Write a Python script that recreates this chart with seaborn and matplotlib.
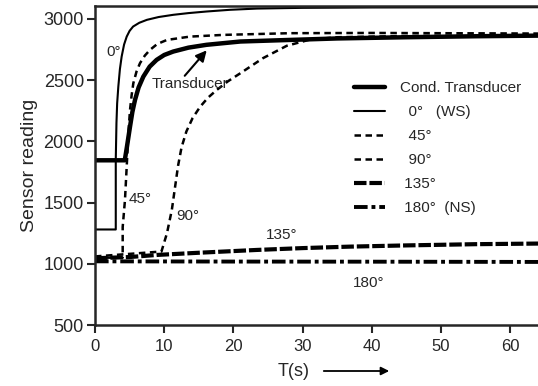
import numpy as np
import pandas as pd
import matplotlib
matplotlib.use('Agg')
import matplotlib.pyplot as plt
import seaborn as sns

# values (time in s, sensor reading)
t_trans = [0, 4.3, 4.6, 5.06, 5.4, 5.78, 6.3, 6.98, 7.9, 8.9, 10, 11.3, 13.5, 16.1, 21, 28.2, 35, 45, 55, 64]
y_trans = [1845, 1845, 1950, 2120, 2240, 2338, 2440, 2528, 2610, 2665, 2705, 2733, 2765, 2788, 2815, 2828, 2840, 2850, 2858, 2863]

t_0 = [0, 3.0, 3.0, 3.1, 3.2, 3.37, 3.6, 3.85, 4.2, 4.58, 5.0, 5.5, 6.4, 7.5, 9.2, 11.3, 13.5, 16.1, 19.5, 23.4, 30, 40, 64]
y_0 = [1280, 1280, 1850, 2150, 2310, 2447, 2590, 2692, 2790, 2855, 2902, 2937, 2968, 2992, 3015, 3033, 3047, 3060, 3074, 3084, 3090, 3093, 3095]

t_45 = [0, 4.0, 4.0, 4.33, 4.58, 4.82, 5.06, 5.3, 5.54, 6.0, 6.5, 7.2, 7.95, 9.0, 10.4, 13.7, 18.5, 28.2, 40, 64]
y_45 = [1050, 1050, 1300, 1521, 1793, 2066, 2257, 2380, 2475, 2570, 2638, 2700, 2747, 2795, 2828, 2855, 2869, 2883, 2885, 2880]

t_90 = [0, 9.6, 10.4, 11.1, 11.5, 12.0, 12.5, 13.2, 14.1, 15.2, 16.3, 17.6, 19.2, 21, 24.3, 27.7, 31, 35, 45, 64]
y_90 = [1060, 1100, 1250, 1440, 1600, 1800, 1950, 2080, 2190, 2283, 2355, 2420, 2490, 2556, 2680, 2780, 2830, 2850, 2860, 2865]

t_135 = [0, 5, 8.9, 15, 23.4, 30, 36.8, 45, 55, 64]
y_135 = [1045, 1055, 1072, 1090, 1113, 1128, 1140, 1150, 1160, 1165]

t_180 = [0, 20, 40, 64]
y_180 = [1020, 1018, 1017, 1015]

labels = ['Cond. Transducer', '  0°   (WS)', '  45°', '  90°', ' 135°', ' 180°  (NS)']

sns.set_style('ticks')
plt.rcParams['font.family'] = ['Liberation Sans', 'DejaVu Sans']

fig = plt.figure(figsize=(5.38, 3.86), dpi=100)
ax = fig.add_axes([95/538, 61/386, 443/538, 319/386])

series = [
    (t_trans, y_trans, 3.2, '-'),
    (t_0, y_0, 1.5, '-'),
    (t_45, y_45, 1.8, (0, (2.6, 1.8))),
    (t_90, y_90, 1.8, (0, (2.6, 1.8))),
    (t_135, y_135, 3.0, (0, (3, 0.7))),
    (t_180, y_180, 2.8, (0, (3.5, 1.0, 1.0, 1.0))),
]
handles = []
for (t, y, lw, ls), lab in zip(series, labels):
    df = pd.DataFrame({'t': t, 'y': y})
    sns.lineplot(data=df, x='t', y='y', ax=ax, color='black', lw=lw,
                 estimator=None, sort=False)
    ln = ax.lines[-1]
    ln.set_linestyle(ls)
    ln.set_label(lab)
    handles.append(ln)

ax.set_xlim(0, 64)
ax.set_ylim(500, 3105)
ax.set_xticks([0, 10, 20, 30, 40, 50, 60])
ax.set_yticks([500, 1000, 1500, 2000, 2500, 3000])
ax.tick_params(axis='both', direction='out', length=6, width=1.5, labelsize=13, pad=2)
ax.tick_params(axis='x', labelsize=12, pad=4)
for s in ['left', 'bottom', 'top']:
    ax.spines[s].set_linewidth(1.8)
ax.spines['right'].set_visible(False)

ax.set_xlabel('')
ax.set_ylabel('Sensor reading', fontsize=14, labelpad=4)

# curve labels
ax.text(3.7, 2730, '0°', fontsize=11, ha='right', va='center')
ax.text(4.9, 1530, '45°', fontsize=11, ha='left', va='center')
ax.text(11.8, 1390, '90°', fontsize=11, ha='left', va='center')
ax.text(26.9, 1235, '135°', fontsize=11, ha='center', va='center')
ax.text(39.5, 843, '180°', fontsize=11, ha='center', va='center')
ax.text(8.2, 2469, 'Transducer', fontsize=11, ha='left', va='center')
ax.annotate('', xy=(16.4, 2760), xytext=(12.7, 2518),
            arrowprops=dict(arrowstyle='-|>', color='black', lw=1.5, mutation_scale=16))

leg = ax.legend(handles=handles, loc='upper left', bbox_to_anchor=(0.585, 0.765),
                frameon=False, fontsize=11, handlelength=2.0, handletextpad=1.0,
                labelspacing=0.66, borderaxespad=0, borderpad=0)

# x axis label with arrow
fig.text(294/538, 15/386, 'T(s)', fontsize=13, ha='center', va='center')
ax.annotate('', xy=(392/538, 15/386), xytext=(321/538, 15/386),
            xycoords='figure fraction', textcoords='figure fraction',
            arrowprops=dict(arrowstyle='-|>', color='black', lw=1.3, mutation_scale=12))

fig.savefig('out.png', dpi=100)
